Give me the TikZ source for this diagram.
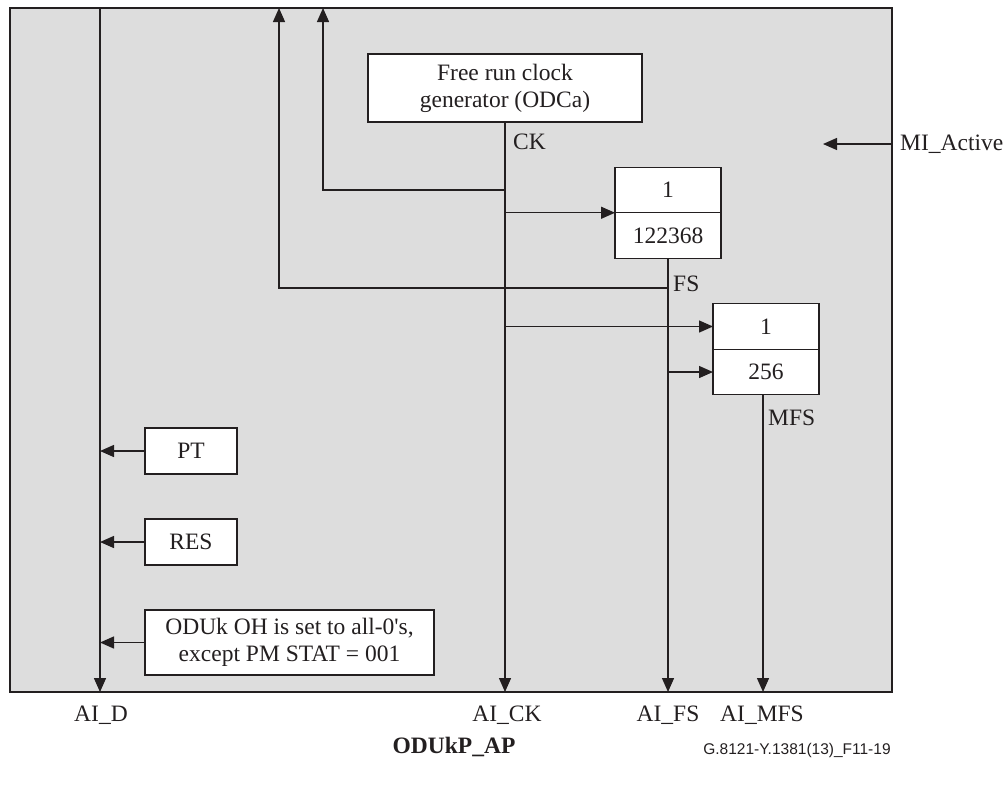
\documentclass[tikz,border=0pt]{standalone}
\usepackage{fontspec}
\setmainfont{Liberation Serif}
\newfontfamily\figfont{Liberation Sans}
\usetikzlibrary{arrows.meta,positioning}
\definecolor{panelgrey}{RGB}{221,221,221}
\definecolor{inkdark}{RGB}{35,31,32}

\begin{document}
\begin{tikzpicture}[
    x=1pt, y=-1pt,
    every node/.style={font=\fontsize{23.5}{27}\selectfont, align=center, text=inkdark},
    block/.style={rectangle, draw=inkdark, fill=white, line width=1.4pt, inner sep=0pt, outer sep=0pt},
    divider/.style={block, minimum width=106pt, minimum height=45.5pt},
    sig/.style={line width=1.4pt, draw=inkdark, -{Triangle[length=14pt,width=12pt]}},
    tag/.style={anchor=west, inner sep=0pt},
    port/.style={anchor=base, inner sep=0pt}
]
\useasboundingbox (0,0) rectangle (1008,785);

% Function boundary
\node[rectangle, draw=inkdark, fill=panelgrey, line width=1.6pt, inner sep=0pt, outer sep=0pt,
      minimum width=882pt, minimum height=684pt] (ap) at (451,350) {};

% Clock generator and dividers
\node[block, minimum width=274pt, minimum height=68pt] (clk) at (505,88) {Free run clock\\generator (ODCa)};
\node[divider] (fdiv) at (668,190) {1};
\node[divider, below=0pt of fdiv] (fdivn) {122368};
\node[divider] (mdiv) at (766,326.5) {1};
\node[divider, below=0pt of mdiv] (mdivn) {256};

% Overhead sources
\node[block, minimum width=92pt, minimum height=46pt] (pt) at (191,451) {PT};
\node[block, minimum width=92pt, minimum height=46pt, below=45pt of pt] (res) {RES};
\node[block, minimum width=289pt, minimum height=65pt, below=45pt of res.south west, anchor=north west] (oh)
    {ODUk OH is set to all-0\textquotesingle s,\\except PM STAT = 001};

% Free ends on the boundary
\coordinate (aid) at (100,8);
\coordinate (ckup) at (323,8);
\coordinate (fsup) at (279,8);
\coordinate (mi) at (892,144);
\coordinate (mitip) at (823,144);

% Clock
\draw[sig] (clk.south) -- (clk.south |- ap.south);
\draw[sig] (clk.south |- 0,190) -| (ckup);
\draw[sig] (clk.south |- fdiv.south) -- (fdiv.south west);
\draw[sig] (clk.south |- mdiv.west) -- (mdiv.west);

% Frame start
\draw[sig] (fdivn.south) -- (fdivn.south |- ap.south);
\draw[sig] (fdivn.south |- 0,288) -| (fsup);
\draw[sig] (fdivn.south |- mdivn.west) -- (mdivn.west);

% Multiframe start
\draw[sig] ([xshift=-3pt]mdivn.south) -- ([xshift=-3pt]mdivn.south |- ap.south);

% Data
\draw[sig] (aid) -- (aid |- ap.south);
\draw[sig] (pt.west) -- (pt.west -| aid);
\draw[sig] (res.west) -- (res.west -| aid);
\draw[sig] (oh.west) -- (oh.west -| aid);

% Management
\draw[sig] (mi) -- (mitip);

% Labels
\node[tag] (cklbl) at (513,142) {CK};
\node[tag] (fslbl) at (673,284) {FS};
\node[tag] (mfslbl) at (768,418) {MFS};
\node[tag] (milbl) at (900,144) {MI\_Active};

\node[port] (aidlbl) at (101,721) {AI\_D};
\node[port] (aicklbl) at (507,721) {AI\_CK};
\node[port] (aifslbl) at (668,721) {AI\_FS};
\node[port] (aimfslbl) at (762,721) {AI\_MFS};
\node[port, font=\fontsize{23.5}{27}\selectfont\bfseries] (title) at (454,753) {ODUkP\_AP};
\node[port, font=\figfont\fontsize{15.5}{18}\selectfont] (figid) at (797,754) {G.8121-Y.1381(13)\_F11-19};
\end{tikzpicture}
\end{document}
